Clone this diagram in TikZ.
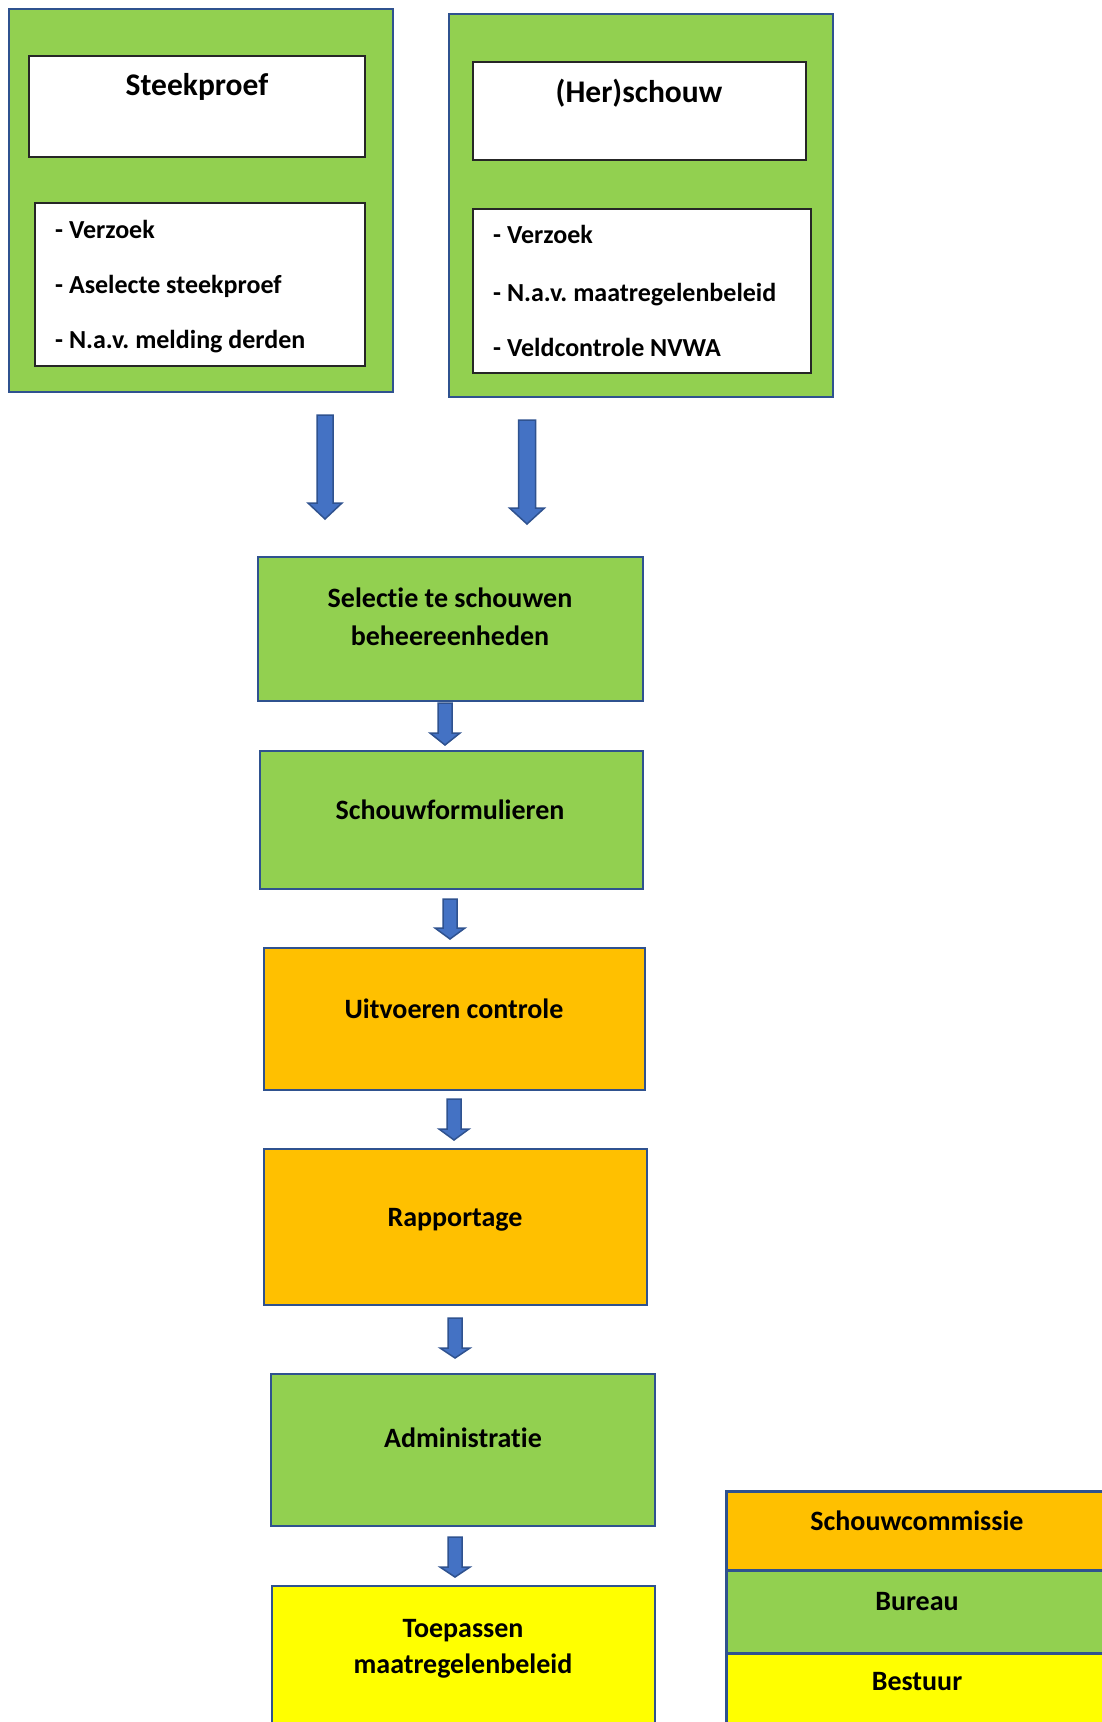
\documentclass[tikz,border=0pt]{standalone}
\usepackage{fontspec}
\setmainfont{Carlito}[Ligatures={NoCommon}]
\frenchspacing
\definecolor{fgreen}{HTML}{92D050}
\definecolor{forange}{HTML}{FFC000}
\definecolor{fyellow}{HTML}{FFFF00}
\definecolor{fblue}{HTML}{4472C4}
\definecolor{fedge}{HTML}{2F528F}
\newcommand{\blockarr}[7]{% name, cx, ytop, yhead, ytip, shaft half, head half
  \coordinate (#1) at (#2,#3);
  \filldraw[arrowfill] (#2-#6,#3) -- (#2+#6,#3) -- (#2+#6,#4) -- (#2+#7,#4) -- (#2,#5) -- (#2-#7,#4) -- (#2-#6,#4) -- cycle;}
\begin{document}
\begin{tikzpicture}[x=1pt,y=-1pt,
  outerbox/.style={draw=fedge,line width=2pt,fill=fgreen,inner sep=0pt,rectangle},
  whitebox/.style={draw=black!85,line width=1.3pt,fill=white,inner sep=0pt,rectangle},
  flowbox/.style={draw=fedge,line width=2pt,inner sep=0pt,rectangle},
  legbox/.style={draw=fedge,line width=3pt,inner sep=0pt,rectangle},
  arrowfill/.style={fill=fblue,draw=fedge,line width=1.5pt,line join=miter},
  titletxt/.style={font=\bfseries\fontsize{31.5}{38}\selectfont,anchor=base,inner sep=0pt},
  itemtxt/.style={font=\bfseries\fontsize{26}{31}\selectfont,anchor=base west,inner sep=0pt},
  flowtxt/.style={font=\bfseries\fontsize{28}{34}\selectfont,anchor=base,inner sep=0pt}]
\useasboundingbox (0,0) rectangle (1102,1722);
\fill[white] (0,0) rectangle (1102,1722);

% Steekproef
\node[outerbox,minimum width=384pt,minimum height=383pt] (spo) at (201,200.5) {};
\node[whitebox,minimum width=336pt,minimum height=101pt] (spt) at (197,106.5) {};
\node[whitebox,minimum width=330pt,minimum height=163pt] (spl) at (200,284.5) {};
\node[titletxt] (sptxt) at (197,95) {Steekproef};
\node[itemtxt] (sp1) at (55,238) {- Verzoek};
\node[itemtxt] (sp2) at (55,293) {- Aselecte steekproef};
\node[itemtxt] (sp3) at (55,348) {- N.a.v. melding derden};

% (Her)schouw
\node[outerbox,minimum width=384pt,minimum height=383pt] (hso) at (641,205.5) {};
\node[whitebox,minimum width=333pt,minimum height=98pt] (hst) at (639.5,111) {};
\node[whitebox,minimum width=338pt,minimum height=164pt] (hsl) at (642,291) {};
\node[titletxt] (hstxt) at (639,102) {(Her)schouw};
\node[itemtxt] (hs1) at (493,243) {- Verzoek};
\node[itemtxt] (hs2) at (493,301) {- N.a.v. maatregelenbeleid};
\node[itemtxt] (hs3) at (493,356) {- Veldcontrole NVWA};

% flow boxes
\node[flowbox,fill=fgreen,minimum width=385pt,minimum height=144pt] (sel) at (450.5,629) {};
\node[flowtxt] (sel1) at (450,607) {Selectie te schouwen};
\node[flowtxt] (sel2) at (450,645) {beheereenheden};

\node[flowbox,fill=fgreen,minimum width=383pt,minimum height=138pt] (sfm) at (451.5,820) {};
\node[flowtxt] (sfmtxt) at (450,819) {Schouwformulieren};

\node[flowbox,fill=forange,minimum width=381pt,minimum height=142pt] (uit) at (454.5,1019) {};
\node[flowtxt] (uittxt) at (454,1018) {Uitvoeren controle};

\node[flowbox,fill=forange,minimum width=383pt,minimum height=156pt] (rap) at (455.5,1227) {};
\node[flowtxt] (raptxt) at (455,1226) {Rapportage};

\node[flowbox,fill=fgreen,minimum width=384pt,minimum height=152pt] (adm) at (463,1450) {};
\node[flowtxt] (admtxt) at (463,1447) {Administratie};

\node[flowbox,fill=fyellow,minimum width=383pt,minimum height=154pt] (toe) at (463.5,1663) {};
\node[flowtxt] (toe1) at (463,1637) {Toepassen};
\node[flowtxt] (toe2) at (463,1673) {maatregelenbeleid};

% block arrows
\blockarr{a1}{325}{415}{503}{519}{8}{17}
\blockarr{a2}{527}{420}{508}{524}{8.5}{17.5}
\blockarr{a3}{445}{703}{733}{745}{7}{15}
\blockarr{a4}{450}{899}{928}{939}{7}{15}
\blockarr{a5}{454}{1099}{1129}{1140}{7}{15}
\blockarr{a6}{455}{1318}{1348}{1358}{7}{15}
\blockarr{a7}{455}{1537}{1567}{1577}{7}{15}

% legend
\node[legbox,fill=forange,minimum width=384pt,minimum height=79pt] (lsc) at (918,1530.5) {};
\node[legbox,fill=fgreen,minimum width=384pt,minimum height=83pt] (lbu) at (918,1611.5) {};
\node[legbox,fill=fyellow,minimum width=384pt,minimum height=80pt] (lbe) at (918,1693) {};
\node[flowtxt] (lsctxt) at (917,1530) {Schouwcommissie};
\node[flowtxt] (lbutxt) at (917,1610) {Bureau};
\node[flowtxt] (lbetxt) at (917,1690) {Bestuur};
\end{tikzpicture}
\end{document}
